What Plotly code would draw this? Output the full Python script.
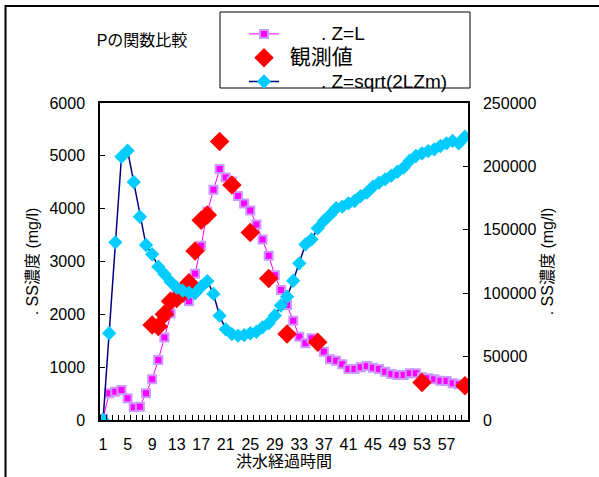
import plotly.graph_objects as go

# ---- data ----
categories = list(range(1, 61))
tick_labels = [str(v) for v in range(1, 58, 4)]

z_eq_l = [30, 505, 536, 568, 411, 240, 252, 505, 770, 1136,
          1560, 2020, 2400, 2350, 2250, 2770, 3300, 3945, 4356, 4750,
          4590, 4515, 4242, 4100, 3965, 3700, 3415, 3110, 2740, 2460,
          2178, 1880, 1578, 1452, 1547, 1483, 1294, 1150, 1123, 1054,
          966, 966, 998, 1023, 991, 966, 915, 871, 852, 852,
          884, 884, 808, 789, 770, 745, 739, 695, 676, 663]

obs_cats = [9, 10, 11, 12, 13, 14, 15, 16, 17, 18, 20, 22, 25, 28, 31, 36, 53, 60]
obs_vals = [1800, 1770, 2000, 2250, 2300, 2400, 2600, 3200, 3780, 3880,
            5270, 4450, 3550, 2680, 1630, 1470, 710, 650]

z_sqrt = [0, 68400, 140100, 207600, 212400, 187700, 160300, 138000, 130700, 120900,
          115100, 109100, 104500, 102000, 100400, 99900, 105100, 109600, 99400, 82300,
          71500, 67800, 66500, 67000, 68400, 69600, 73100, 76300, 82400, 90300,
          97200, 109800, 123600, 138500, 142500, 151200, 157000, 161700, 167000, 168200,
          170900, 172700, 176600, 179300, 184000, 187200, 189800, 192700, 195800, 199000,
          204500, 208200, 210300, 212100, 213500, 216100, 218200, 220100, 218200, 223400]

FONT = "Liberation Sans, Arial, Noto Sans CJK JP, sans-serif"
NB = "\u00a0"

def sized(text, size):
    return "<span style='font-size:%dpx'>%s</span>" % (size, text)

fig = go.Figure()
fig.add_trace(go.Scatter(
    x=categories, y=z_eq_l, mode="lines+markers",
    name=sized(NB * 7 + ". Z=L", 19),
    line=dict(color="#FF00FF", width=1),
    marker=dict(symbol="square", size=8, color="#FF00FF",
                line=dict(color="#CC99FF", width=2)),
))
fig.add_trace(go.Scatter(
    x=obs_cats, y=obs_vals, mode="markers",
    name=sized(NB + "観測値", 21),
    marker=dict(symbol="diamond", size=15, color="#FF0000"),
))
fig.add_trace(go.Scatter(
    x=categories, y=z_sqrt, mode="lines+markers", yaxis="y2",
    name=sized(NB * 7 + ". Z=sqrt(2LZm)", 19),
    line=dict(color="#000080", width=1.5),
    marker=dict(symbol="diamond", size=11, color="#00CCFF"),
))

W, H = 599, 477
L, R, T, B = 100, 131, 103, 57
pw, ph = W - L - R, H - T - B

def px(x):
    return (x - L) / pw

def py(y):
    return (H - B - y) / ph

fig.update_layout(
    width=W, height=H,
    margin=dict(l=L, r=R, t=T, b=B, autoexpand=False),
    paper_bgcolor="white", plot_bgcolor="white",
    font=dict(family=FONT, size=16, color="black"),
    showlegend=True,
    title=dict(text="Pの関数比較", x=142 / W, y=1 - 40 / H,
               xanchor="center", yanchor="middle",
               font=dict(size=16, family=FONT)),
    xaxis=dict(
        range=[0.5, 60.5], tickvals=list(range(1, 58, 4)), ticktext=tick_labels,
        ticks="", showgrid=False, zeroline=False, automargin=False,
        showline=True, linecolor="black", linewidth=1.5, mirror=True,
        minor=dict(tick0=0.5, dtick=1, ticks="inside", ticklen=5,
                   tickcolor="black", showgrid=False),
        ticklabelstandoff=9,
        title=dict(text="洪水経過時間", standoff=4, font=dict(size=16)),
    ),
    yaxis=dict(
        range=[0, 6000], dtick=1000, ticks="inside", ticklen=5,
        tickcolor="black", showgrid=False, zeroline=False, automargin=False,
        showline=True, linecolor="black", linewidth=1.5,
        ticklabelstandoff=10,
        title=dict(text=". SS濃度 (mg/l)", standoff=7, font=dict(size=16)),
    ),
    yaxis2=dict(
        range=[0, 250000], dtick=50000, ticks="inside", ticklen=5,
        tickformat="d",
        tickcolor="black", showgrid=False, zeroline=False, automargin=False,
        overlaying="y", side="right",
        showline=True, linecolor="black", linewidth=1.5,
        ticklabelstandoff=10,
        title=dict(text=". SS濃度 (mg/l)", standoff=6, font=dict(size=16)),
    ),
    legend=dict(
        x=px(244), y=py(17), xanchor="left", yanchor="top",
        bgcolor="rgba(0,0,0,0)", borderwidth=0,
        font=dict(size=16, family=FONT),
        tracegroupgap=0,
    ),
    shapes=[
        dict(type="rect", xref="paper", yref="paper",
             x0=px(220), x1=px(470), y0=py(88), y1=py(12),
             line=dict(color="black", width=1), fillcolor="rgba(0,0,0,0)"),
        dict(type="rect", xref="paper", yref="paper",
             x0=px(5.5), x1=px(620), y0=py(500), y1=py(6),
             line=dict(color="black", width=2), fillcolor="rgba(0,0,0,0)"),
    ],
)

fig.write_html("out.html")
